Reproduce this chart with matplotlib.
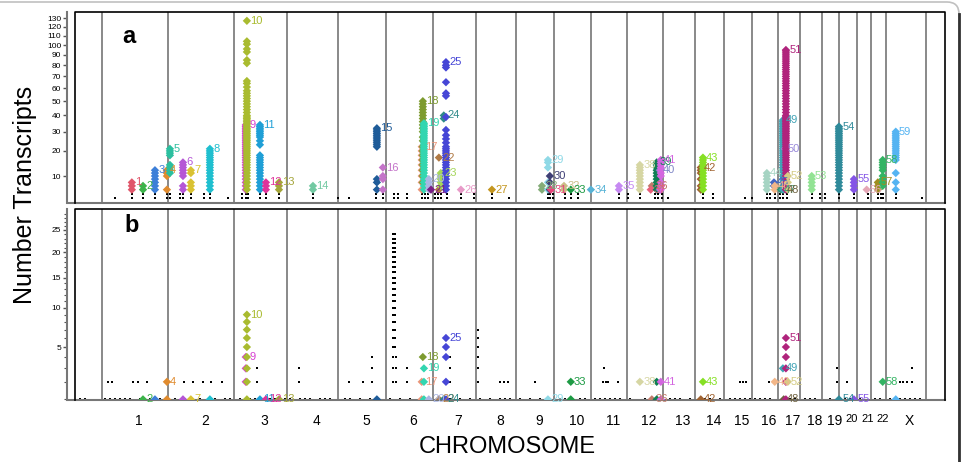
import numpy as np
import matplotlib
matplotlib.use("Agg")
import matplotlib.pyplot as plt
from matplotlib.patches import FancyBboxPatch

plt.rcParams['font.family'] = ['Liberation Sans', 'DejaVu Sans']

# chromosomes (lengths in Mb, as laid out on the x axis)
chrom_names = ['1', '2', '3', '4', '5', '6', '7', '8', '9', '10', '11', '12',
               '13', '14', '15', '16', '17', '18', '19', '20', '21', '22', 'X']
chrom_len = [243, 243, 195, 188, 176, 173, 158, 147, 140, 136, 132, 132,
             118, 107, 103, 96, 81, 81, 62, 66, 51, 55, 147]
x_lo, x_hi = -99, 3100

# clusters: genome position (Mb) and colour
cluster_ids = list(range(1, 60))
cluster_pos = [110, 151, 195, 239, 250, 298, 327, 397, 529, 533,
               581, 603, 651, 776, 1011, 1033, 1176, 1180, 1184, 1202,
               1210, 1239, 1246, 1257, 1265, 1320, 1434, 1618, 1640, 1647,
               1651, 1699, 1724, 1798, 1901, 2022, 2018, 1978, 2040, 2051,
               2055, 2202, 2210, 2445, 2471, 2474, 2496, 2507, 2504, 2511,
               2515, 2522, 2610, 2710, 2765, 2812, 2853, 2871, 2919]
cluster_colors = ['#e0566a', '#3cb34a', '#3d7fd8', '#e08b2e', '#2bbf9f', '#b556d6', '#d9c232',
                  '#1fbfcf', '#d63fd0', '#a9bb2f', '#1f9fd6', '#e0339b', '#a4a53a', '#72c9a2',
                  '#1f5c99', '#c474c9', '#ec9578', '#7d9b2f', '#33d6b0', '#aab6e3', '#7a1f86',
                  '#b07a45', '#a5d65a', '#2f8a8a', '#4646d6', '#e89ac8', '#c4961f', '#84ac78',
                  '#8fd9e6', '#3f3f75', '#e6457a', '#cbbd86', '#1d9a44', '#57b3d6', '#c689f2',
                  '#c07a6a', '#e8607a', '#d6d6a3', '#0e7f52', '#7f86c6', '#d466e0', '#a0622f',
                  '#86e024', '#a6d4c3', '#4566c2', '#f2b688', '#2f9670', '#6f6240', '#41a3b5',
                  '#9787d9', '#b0237c', '#d4cc85', '#92e394', '#2f8a9a', '#8455e6', '#e4a6b6',
                  '#a08d1f', '#33b463', '#55b4f2']

# transcripts per cluster, panel a
counts_a = [
    [6, 7, 8],
    [6, 7],
    [6, 7, 8, 9, 10, 11, 12],
    [6, 10, 11, 12],
    [11, 12, 13, 14, 18, 19, 20, 21],
    [6, 7, 10, 11, 12, 13, 14, 15],
    [6, 7, 8, 11, 12],
    [6, 7, 8, 9, 10, 11, 12, 13, 14, 15, 16, 17, 18, 19, 20, 21],
    [6, 7, 8, 9, 10, 11, 12, 13, 14, 15, 16, 17, 18, 19, 20, 21, 22, 23, 24, 25,
     26, 27, 28, 29, 30, 31, 32, 33, 34],
    [6, 7, 8, 9, 10, 11, 12, 13, 14, 15, 16, 17, 18, 19, 20, 21, 22, 23, 24, 25,
     26, 27, 28, 29, 30, 31, 32, 33, 34, 35, 36, 37, 38, 39, 40, 42, 44, 46, 48,
     50, 52, 54, 56, 58, 61, 64, 66, 82, 85, 93, 96, 101, 104, 127],
    [6, 7, 8, 9, 10, 11, 12, 13, 14, 15, 16, 17, 18, 23, 25, 27, 28, 29, 30, 31,
     32, 33, 34],
    [6, 7, 8],
    [6, 7, 8],
    [6, 7],
    [6, 8, 9, 22, 23, 24, 25, 26, 27, 28, 29, 30, 31, 32],
    [6, 9, 10, 13],
    [6, 8, 10, 12, 14, 16, 18, 20, 22],
    [8, 10, 12, 14, 16, 18, 20, 22, 25, 27, 30, 32, 34, 36, 38, 40, 42, 44, 46, 48, 50],
    [6, 7, 8, 9, 10, 11, 12, 13, 14, 15, 16, 17, 18, 19, 20, 21, 22, 23, 24, 25,
     26, 27, 28, 29, 30, 31, 32, 33, 34, 35],
    [6, 7, 8, 9],
    [6],
    [6, 17],
    [7, 8, 9, 10, 11],
    [38, 40],
    [6, 7, 8, 9, 10, 11, 12, 13, 14, 15, 16, 17, 18, 19, 20, 21, 22, 24, 26, 28,
     31, 39, 54, 56, 65, 78, 80, 83],
    [6],
    [6],
    [6, 7],
    [6, 8, 13, 15, 16],
    [6, 8, 10],
    [6],
    [6, 7],
    [6],
    [6],
    [6, 7],
    [7],
    [6],
    [6, 7, 8, 9, 10, 11, 12, 13, 14],
    [6, 7, 8, 9, 10, 11, 12, 13, 14, 15],
    [6, 12],
    [6, 7, 8, 10, 11, 12, 13, 14, 15, 16],
    [6, 7, 9, 11, 12, 13],
    [6, 7, 8, 9, 10, 11, 12, 13, 14, 15, 16, 17],
    [6, 7, 8, 9, 10, 11],
    [7, 8],
    [6, 7],
    [6],
    [6],
    [6, 7, 8, 9, 10, 11, 12, 13, 14, 15, 16, 17, 18, 19, 20, 21, 22, 23, 24, 25,
     26, 27, 28, 29, 30, 31, 32, 33, 34, 35, 36, 37],
    [21],
    [6, 7, 8, 9, 10, 11, 12, 13, 14, 15, 16, 17, 18, 19, 20, 21, 22, 23, 24, 25,
     26, 27, 28, 29, 30, 31, 32, 33, 34, 35, 36, 37, 38, 39, 40, 42, 44, 46, 48,
     50, 52, 54, 56, 58, 60, 62, 64, 66, 68, 70, 72, 74, 76, 78, 80, 82, 84, 86,
     88, 90, 92, 94, 95],
    [6, 8, 10],
    [6, 7, 8, 9, 10],
    [6, 7, 8, 9, 10, 11, 12, 13, 14, 15, 16, 17, 18, 19, 20, 21, 22, 23, 24, 25,
     26, 27, 28, 29, 30, 31, 32, 33],
    [6, 7, 8, 9],
    [6],
    [6, 7, 8],
    [7, 8, 9, 10, 12, 13, 14, 15, 16],
    [6, 8, 11, 16, 17, 18, 19, 20, 21, 22, 23, 24, 25, 26, 27, 28, 29, 30],
]

# transcripts per cluster, panel b
counts_b = [
    [], [1], [1], [1, 2], [], [1], [1], [1], [2, 3, 4], [1, 2, 3, 4, 5, 6, 7, 8, 9],
    [1], [1], [1], [], [1], [], [1, 2], [4], [1, 2, 3], [1],
    [], [1], [], [1], [1, 2, 4, 5, 6], [], [], [], [1], [],
    [], [], [1, 2], [], [], [1], [], [2], [1, 2], [],
    [1, 2], [1], [2], [], [], [2], [], [1], [3], [],
    [1, 2, 3, 4, 5, 6], [2], [], [1], [1], [], [], [2], [1],
]
hidden_b_labels = [3, 6, 8, 15, 39, 59]

# unclustered transcripts (black marks)
black_a_pair = [110, 151, 195, 239, 250, 287, 298, 327, 375, 397, 515, 529, 537, 581,
                603, 651, 776, 1007, 1033, 1074, 1088, 1121, 1176, 1188, 1199, 1224,
                1235, 1246, 1268, 1320, 1368, 1434, 1640, 1647, 1658, 1702, 1724, 1750,
                1901, 1934, 1978, 2033, 2044, 2059, 2210, 2246, 2445, 2456, 2474, 2493,
                2504, 2518, 2610, 2640, 2658, 2710, 2765, 2816, 2853, 2864, 2871, 2919]
black_a_single = [48, 463, 868, 908, 1496, 2081, 2364, 2390, 3015]

black_b_1 = [-81, -63, 11, 29, 48, 66, 85, 103, 140, 176, 213, 268, 305, 360, 415,
             452, 471, 507, 544, 562, 618, 636, 673, 691, 728, 746, 765, 801, 820,
             838, 893, 912, 949, 985, 1059, 1096, 1132, 1169, 1206, 1243, 1279, 1316,
             1353, 1390, 1426, 1463, 1482, 1500, 1537, 1574, 1610, 1684, 1702, 1757,
             1776, 1812, 1831, 1849, 1868, 1886, 1904, 1941, 1996, 2088, 2107, 2125,
             2162, 2217, 2235, 2272, 2309, 2327, 2346, 2364, 2382, 2401, 2419, 2438,
             2456, 2529, 2548, 2585, 2603, 2621, 2676, 2732, 2750, 2787, 2842, 2860,
             2897, 2915, 2934, 2952, 2971, 2989, 3007]
black_b_2 = [22, 37, 114, 132, 165, 301, 335, 371, 401, 441, 570, 724, 908, 960, 993,
             1070, 1081, 1121, 1279, 1382, 1463, 1478, 1493, 1592, 1842, 1853, 1860,
             1897, 2346, 2357, 2368, 2452, 2522, 2702, 2739, 2934, 2945, 2960, 2978]
black_b_3 = [570, 724, 993, 1070, 1081, 1121, 1279, 1382, 1846, 2522, 2702, 2978]
black_b_4 = [993, 1070, 1081, 1279, 1382, 2522]
col6_pos = [1070, 1078]
col6_counts = [5, 6, 7, 8, 9, 10, 11, 12, 13, 14, 15, 16, 17, 18, 19, 20, 21, 22,
               23, 24]
col8_pos = 1382
col8_counts = [5, 6, 7]

chrom_start = np.concatenate([[0], np.cumsum(chrom_len)[:-1]])
chrom_end = np.cumsum(chrom_len)
chrom_mid = (chrom_start + chrom_end) / 2 + 14

fig = plt.figure(figsize=(9.67, 4.62), dpi=100)
W, H = 967, 462
ax_a = fig.add_axes([75 / W, 1 - 203 / H, 870 / W, 191 / H])
ax_b = fig.add_axes([75 / W, 1 - 400 / H, 870 / W, 191 / H])


def setup(ax, ylo, yhi):
    ax.set_yscale('function', functions=(lambda v: np.sqrt(np.clip(v, 0, None)), np.square))
    ax.set_xlim(x_lo, x_hi)
    ax.set_ylim(ylo, yhi)
    for b in list(chrom_start) + [chrom_end[-1]]:
        ax.axvline(b, color='#6a6a6a', lw=1.1, zorder=1)
    ax.spines['top'].set_visible(False)
    ax.spines['right'].set_visible(False)
    ax.spines['left'].set_position(('outward', 6))
    ax.spines['left'].set_color('#777777')
    ax.spines['left'].set_linewidth(1.5)
    ax.spines['bottom'].set_color('#777777')
    ax.spines['bottom'].set_linewidth(1.5)
    ax.spines['bottom'].set_bounds(x_lo - 23, x_hi)
    ax.plot([0, 0, 1, 1], [0, 1, 1, 0], transform=ax.transAxes, color='black',
            lw=1.2, clip_on=False, zorder=6)
    ax.tick_params(axis='y', which='major', length=3, width=1, color='#555555',
                   labelsize=6, pad=1)
    ax.tick_params(axis='y', which='minor', length=2, width=0.8, color='#555555')


def draw_clusters(ax, counts, hidden):
    for cid, pos, col, vals in zip(cluster_ids, cluster_pos, cluster_colors, counts):
        if not vals:
            continue
        ax.scatter([pos] * len(vals), vals, marker='D', s=18, color=col,
                   edgecolors='none', zorder=3)
        if cid not in hidden:
            ax.text(pos + 12, max(vals), str(cid), color=col, fontsize=8,
                    ha='left', va='center', zorder=4)


# panel a
setup(ax_a, 3.07, 137.6)
ax_a.scatter(black_a_pair + black_a_pair, [4] * len(black_a_pair) + [5] * len(black_a_pair),
             marker='s', s=2.5, color='black', lw=0, zorder=2)
ax_a.scatter(black_a_single, [4] * len(black_a_single), marker='s', s=2.5,
             color='black', lw=0, zorder=2)
draw_clusters(ax_a, counts_a, [])
ax_a.set_yticks([10, 20, 30, 40, 50, 60, 70, 80, 90, 100, 110, 120, 130])
ax_a.set_xticks([])
ax_a.text(0.054, 0.874, 'a', transform=ax_a.transAxes, fontsize=17,
          fontweight='bold', va='center')

# panel b
setup(ax_b, 0.97, 30.2)
bx, by = [], []
for row_val, row in zip([1, 2, 3, 4], [black_b_1, black_b_2, black_b_3, black_b_4]):
    bx += row
    by += [row_val] * len(row)
for p in col6_pos:
    bx += [p] * len(col6_counts)
    by += col6_counts
bx += [col8_pos] * len(col8_counts)
by += col8_counts
ax_b.scatter(bx, by, marker='s', s=3, color='black', lw=0, zorder=2)
draw_clusters(ax_b, counts_b, hidden_b_labels)
ax_b.set_yticks([5, 10, 15, 20, 25])
ax_b.set_yticks([v for v in range(1, 31) if v % 5], minor=True)
ax_b.set_xticks(chrom_mid)
ax_b.set_xticklabels(chrom_names)
ax_b.tick_params(axis='x', length=0, pad=10, labelsize=10)
for lab in ax_b.get_xticklabels():
    if lab.get_text() in ('20', '21', '22'):
        lab.set_fontsize(8)
ax_b.text(0.057, 0.911, 'b', transform=ax_b.transAxes, fontsize=17,
          fontweight='bold', va='center')

fig.text(25 / W, 1 - 195 / H, 'Number Transcripts', rotation=90, fontsize=18,
         ha='center', va='center')
fig.text(507 / W, 1 - 447 / H, 'CHROMOSOME', fontsize=17, ha='center', va='center')

# outer frame
frame = FancyBboxPatch((-0.3, -0.3), 9.89, 4.90, boxstyle='round,pad=0,rounding_size=0.12',
                       transform=fig.dpi_scale_trans, fill=False, ec='#c0c0c0', lw=1.2)
fig.patches.append(frame)
fig.add_artist(plt.Line2D([9.59, 9.59], [-0.1, 4.48], transform=fig.dpi_scale_trans,
                          color='#333333', lw=2))

fig.savefig('out.png', dpi=100)
